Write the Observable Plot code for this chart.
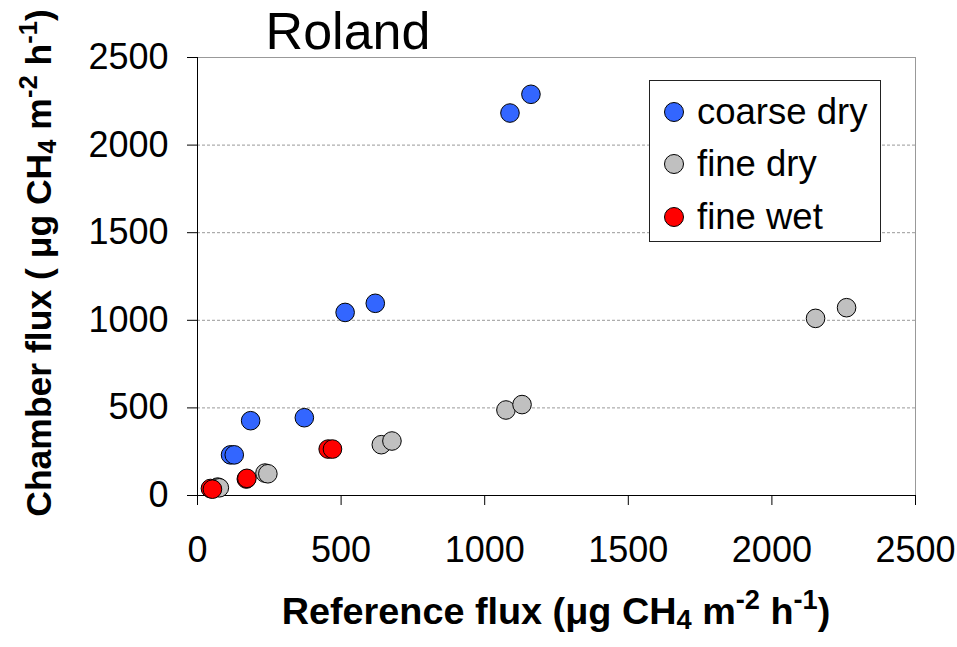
<!DOCTYPE html>
<html>
<head>
<meta charset="utf-8">
<script src="https://cdn.jsdelivr.net/npm/d3@7"></script>
<script src="https://cdn.jsdelivr.net/npm/@observablehq/plot@0.6"></script>
<style>
  html, body { margin: 0; padding: 0; background: #fff; }
  #wrap { position: relative; width: 957px; height: 647px; font-family: "Liberation Sans", Arial, sans-serif; color: #000; }
  #chart { position: absolute; left: 0; top: 0; }
  .lbl { position: absolute; white-space: nowrap; line-height: 1; }
  .sub { font-size: 0.72em; vertical-align: -0.18em; }
  .sup { font-size: 0.72em; vertical-align: 0.55em; }
  #legend { position: absolute; left: 649px; top: 80px; width: 230px; height: 160px; border: 1px solid #222; background: #fff; }
  .item { position: absolute; left: 0; height: 36px; line-height: 36px; font-size: 36.5px; white-space: nowrap; }
  .sw { position: absolute; left: 14px; top: 8px; width: 18px; height: 18px; border: 1px solid #000; border-radius: 50%; }
  .tx { position: absolute; left: 47px; top: 0; }
</style>
</head>
<body>
<div id="wrap">
  <div id="chart"></div>
  <div class="lbl" id="title" style="left:348px; top:31px; font-size:52px; transform:translate(-50%,-50%);">Roland</div>
  <div class="lbl" id="xtitle" style="left:556px; top:610px; font-size:37.8px; font-weight:bold; transform:translate(-50%,-50%);">Reference flux (μg CH<span class="sub">4</span> m<span class="sup">-2</span> h<span class="sup">-1</span>)</div>
  <div class="lbl" id="ytitle" style="left:38px; top:263px; font-size:35.5px; font-weight:bold; transform:translate(-50%,-50%) rotate(-90deg);">Chamber flux ( μg CH<span class="sub">4</span> m<span class="sup">-2</span> h<span class="sup">-1</span>)</div>
  <div id="legend"></div>
</div>
<script>
// Series names and colours
const seriesNames = ["coarse dry", "fine dry", "fine wet"];
const seriesColors = ["#3366ff", "#c0c0c0", "#ff0000"];

// Reference flux (x) and chamber flux (y)
const coarseDryX = [115, 128, 185, 372, 514, 619, 1088, 1161];
const coarseDryY = [232, 232, 427, 444, 1045, 1097, 2183, 2290];
const fineDryX = [70, 76, 235, 245, 640, 677, 1074, 1130, 2152, 2260];
const fineDryY = [48, 44, 128, 124, 290, 311, 488, 519, 1011, 1072];
const fineWetX = [45, 52, 170, 172, 455, 470];
const fineWetY = [40, 36, 94, 98, 265, 265];

// Axis ticks
const xTicks = [0, 500, 1000, 1500, 2000, 2500];
const yTicks = [0, 500, 1000, 1500, 2000, 2500];
const gridTicks = [500, 1000, 1500, 2000];

const seriesX = [coarseDryX, fineDryX, fineWetX];
const seriesY = [coarseDryY, fineDryY, fineWetY];
const data = [];
seriesNames.forEach((s, i) => {
  seriesX[i].forEach((x, j) => data.push({series: s, x, y: seriesY[i][j]}));
});

const chart = Plot.plot({
  width: 957,
  height: 647,
  marginLeft: 197,
  marginRight: 42,
  marginTop: 57,
  marginBottom: 152,
  x: {domain: [0, 2500]},
  y: {domain: [0, 2500]},
  color: {domain: seriesNames, range: seriesColors},
  style: {fontFamily: "'Liberation Sans', Arial, sans-serif", fontSize: "36px", color: "#000", background: "transparent"},
  marks: [
    Plot.frame({stroke: "#999"}),
    Plot.gridY(gridTicks, {stroke: "#999", strokeOpacity: 1, strokeDasharray: "3,2"}),
    Plot.axisX({ticks: xTicks, tickSize: 10, tickPadding: 31, label: null, tickFormat: d => String(d)}),
    Plot.axisY({ticks: yTicks, tickSize: 10, tickPadding: 19, label: null, tickFormat: d => String(d)}),
    Plot.ruleX([0], {stroke: "#000"}),
    Plot.ruleY([0], {stroke: "#000"}),
    Plot.dot(data, {x: "x", y: "y", fill: "series", r: 9.3, stroke: "#000", strokeWidth: 1})
  ]
});
document.getElementById("chart").appendChild(chart);

// Legend
const legend = document.getElementById("legend");
const rowCenters = [31, 83, 136];
seriesNames.forEach((s, i) => {
  const row = document.createElement("div");
  row.className = "item";
  row.style.top = (rowCenters[i] - 18) + "px";
  const sw = document.createElement("div");
  sw.className = "sw";
  sw.style.background = seriesColors[i];
  const tx = document.createElement("div");
  tx.className = "tx";
  tx.textContent = s;
  row.appendChild(sw);
  row.appendChild(tx);
  legend.appendChild(row);
});
</script>
</body>
</html>
